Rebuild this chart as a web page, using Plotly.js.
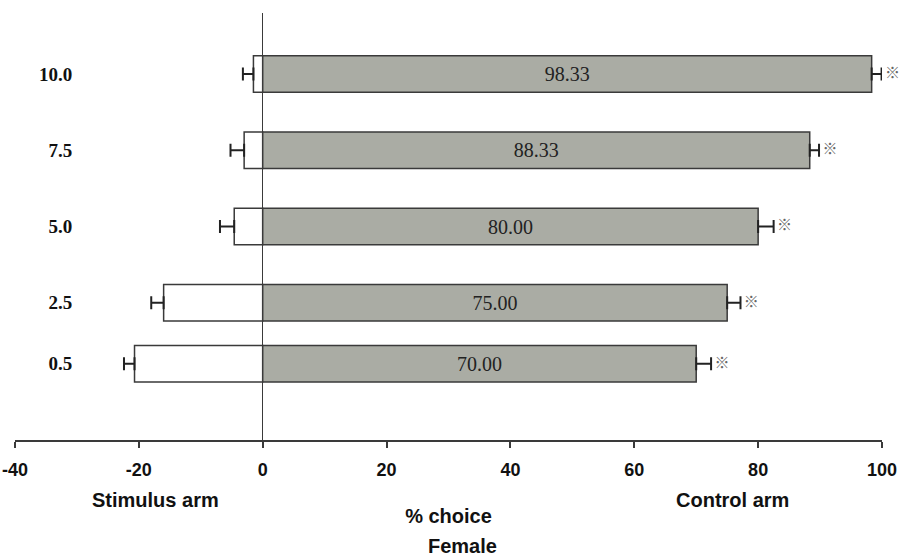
<!DOCTYPE html>
<html>
<head>
<meta charset="utf-8">
<script src="https://cdn.plot.ly/plotly-3.0.1.min.js"></script>
<style>
html,body{margin:0;padding:0;background:#fff;}
#chart{width:903px;height:560px;}
</style>
</head>
<body>
<div id="chart"></div>
<script>
// Concentrations (y positions on a linear axis)
const concentrations = [10.0, 7.5, 5.0, 2.5, 0.5];
const concLabels = ['10.0', '7.5', '5.0', '2.5', '0.5'];
// % choice of stimulus arm (negative side)
const stimulusValues = [-1.5, -3.0, -4.6, -16.0, -20.7];
const stimulusErr = [1.7, 2.2, 2.3, 2.0, 1.7];
// % choice of control arm (positive side)
const controlValues = [98.33, 88.33, 80.00, 75.00, 70.00];
const controlErr = [1.6, 1.5, 2.5, 2.15, 2.4];
const sigMarks = ['※', '※', '※', '※', '※'];
const xTicks = [-40, -20, 0, 20, 40, 60, 80, 100];

const edge = '#3a3a3a';

const stimulusTrace = {
  type: 'bar', orientation: 'h',
  x: stimulusValues, y: concentrations, width: 1.2,
  marker: {color: '#ffffff', line: {color: edge, width: 1.5}},
  error_x: {type: 'data', symmetric: false, array: stimulusValues.map(() => 0),
            arrayminus: stimulusErr, color: '#222', thickness: 2, width: 6.5},
  hoverinfo: 'x+y', showlegend: false
};

const controlTrace = {
  type: 'bar', orientation: 'h',
  x: controlValues, y: concentrations, width: 1.2,
  marker: {color: '#aaaca4', line: {color: edge, width: 1.5}},
  error_x: {type: 'data', symmetric: false, array: controlErr,
            arrayminus: controlValues.map(() => 0), color: '#222', thickness: 2, width: 6.5},
  texttemplate: '%{x:.2f}', textposition: 'inside', insidetextanchor: 'middle',
  textangle: 0,
  insidetextfont: {family: 'Liberation Serif, Times New Roman, serif', size: 20, color: '#222'},
  hoverinfo: 'x+y', showlegend: false
};

const sigTrace = {
  type: 'scatter', mode: 'text',
  x: controlValues.map((v, i) => v + controlErr[i]), y: concentrations,
  text: sigMarks, texttemplate: '\u00a0%{text}', textposition: 'middle right',
  textfont: {family: 'Noto Sans CJK SC, DejaVu Sans, sans-serif', size: 15, color: '#666'},
  cliponaxis: false, hoverinfo: 'skip', showlegend: false
};

const sansBold = {family: 'Liberation Sans, Arial, sans-serif', size: 20, color: '#111', weight: 'bold'};

const layout = {
  width: 903, height: 560,
  margin: {l: 15, r: 21, t: 13, b: 120},
  paper_bgcolor: '#ffffff', plot_bgcolor: '#ffffff',
  barmode: 'overlay',
  bargap: 0,
  xaxis: {
    range: [-40, 100], tickvals: xTicks, ticktext: xTicks.map(String),
    showgrid: false, zeroline: true, zerolinecolor: edge, zerolinewidth: 1.5,
    showline: true, linecolor: edge, linewidth: 2,
    ticks: 'outside', ticklen: 6, tickwidth: 2, tickcolor: edge,
    ticklabelstandoff: 6,
    tickfont: {family: 'Liberation Sans, Arial, sans-serif', size: 18, color: '#111', weight: 'bold'},
    title: {text: '% choice', font: sansBold, standoff: 30},
    fixedrange: true
  },
  yaxis: {
    range: [-2, 12], tickvals: concentrations, ticktext: concLabels,
    anchor: 'free', position: 0.066, side: 'left',
    showgrid: false, zeroline: false, showline: false, ticks: '',
    tickfont: {family: 'Liberation Serif, Times New Roman, serif', size: 19, color: '#111', weight: 'bold'},
    fixedrange: true
  },
  annotations: [
    {text: 'Stimulus arm', xref: 'paper', yref: 'paper', x: 0.162, y: -0.14,
     xanchor: 'center', yanchor: 'middle', showarrow: false, font: sansBold},
    {text: 'Control arm', xref: 'paper', yref: 'paper', x: 0.8276, y: -0.14,
     xanchor: 'center', yanchor: 'middle', showarrow: false, font: sansBold},
    {text: 'Female', xref: 'paper', yref: 'paper', x: 0.5156, y: -0.248,
     xanchor: 'center', yanchor: 'middle', showarrow: false, font: sansBold}
  ]
};

Plotly.newPlot('chart', [stimulusTrace, controlTrace, sigTrace], layout, {displayModeBar: false, staticPlot: true});
</script>
</body>
</html>
